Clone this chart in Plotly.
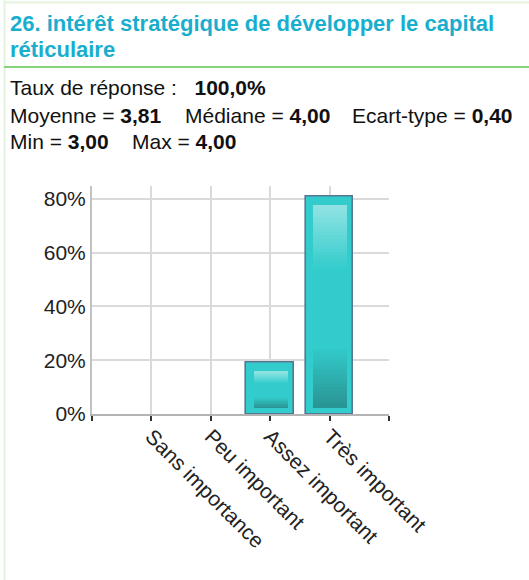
import plotly.graph_objects as go

# Survey question 26: answer distribution and summary statistics
categories = ["Sans importance", "Peu important", "Assez important", "Très important"]
percentages = [0.0, 0.0, 19.0, 81.0]
y_ticks = [0, 20, 40, 60, 80]
y_tick_labels = ["0%", "20%", "40%", "60%", "80%"]

title_lines = ["26. intérêt stratégique de développer le capital", "réticulaire"]
response_rate = "100,0%"
mean_txt, median_txt, std_txt = "3,81", "4,00", "0,40"
min_txt, max_txt = "3,00", "4,00"

W, H = 529, 580
FONT = "Liberation Sans, Arial, sans-serif"
BAR_FILL = "#33CCCC"
BAR_EDGE = "#587592"


def px_x(px):
    return px / W


def px_y(py):
    return 1 - py / H


def hex_to_rgb(h):
    h = h.lstrip("#")
    return tuple(int(h[i:i + 2], 16) for i in (0, 2, 4))


def lerp_color(c1, c2, t):
    a, b = hex_to_rgb(c1), hex_to_rgb(c2)
    return "rgb(%d,%d,%d)" % tuple(round(a[i] + (b[i] - a[i]) * t) for i in range(3))


def inner_shade(t):
    # t: 0 at bottom of inner panel, 1 at top
    if t < 0.3:
        return lerp_color("#2A9393", BAR_FILL, t / 0.3)
    if t < 0.68:
        return lerp_color(BAR_FILL, BAR_FILL, 0)
    return lerp_color(BAR_FILL, "#92E3E3", (t - 0.68) / 0.32)


x_pos = [i + 1 for i in range(len(categories))]

fig = go.Figure()

# outer bars
fig.add_trace(go.Bar(
    x=x_pos, y=percentages, width=0.8,
    marker=dict(color=BAR_FILL,
                line=dict(color=BAR_EDGE, width=[1.6 if v > 0 else 0 for v in percentages])),
    hoverinfo="skip", showlegend=False,
))

# inner shaded panel of each bar, built from thin slices
N = 60
gx, gbase, gh, gcol = [], [], [], []
for xp, v in zip(x_pos, percentages):
    if v <= 0:
        continue
    lo, hi = 2.6, v - 3.0
    step = (hi - lo) / N
    for k in range(N):
        gx.append(xp + 0.01)
        gbase.append(lo + k * step)
        gh.append(step * 1.05 if k < N - 1 else step)
        gcol.append(inner_shade((k + 0.5) / N))
fig.add_trace(go.Bar(
    x=gx, y=gh, base=gbase, width=0.57,
    marker=dict(color=gcol, line=dict(width=0)),
    hoverinfo="skip", showlegend=False,
))

y_top = 85
fig.update_layout(
    width=W, height=H,
    margin=dict(l=0, r=0, t=0, b=0, autoexpand=False),
    paper_bgcolor="white", plot_bgcolor="white",
    barmode="overlay", bargap=0,
    font=dict(family=FONT, color="#222222"),
    xaxis=dict(
        domain=[px_x(92), px_x(389)],
        range=[0, 5],
        automargin=False,
        tickmode="array",
        tickvals=[0, 1, 2, 3, 4, 5],
        ticktext=[""] + categories + [""],
        tickangle=45,
        tickfont=dict(size=21, color="#222222"),
        ticks="outside", ticklen=5, tickwidth=1.5, tickcolor="#333333",
        ticklabelstandoff=-5,
        showgrid=True, gridcolor="#DADADA", gridwidth=1.6,
        showline=True, linecolor="#B4B4B4", linewidth=2,
        zeroline=False, fixedrange=True,
    ),
    yaxis=dict(
        domain=[px_y(414), px_y(185.5)],
        range=[0, y_top],
        automargin=False,
        tickmode="array",
        tickvals=y_ticks,
        ticktext=y_tick_labels,
        tickfont=dict(size=21, color="#222222"),
        ticks="", ticklabelstandoff=0,
        showgrid=True, gridcolor="#DADADA", gridwidth=1.6,
        showline=True, linecolor="#C2C2C2", linewidth=2,
        zeroline=False, fixedrange=True,
    ),
)

# frame lines around the question block
fig.add_shape(type="line", xref="paper", yref="paper",
              x0=px_x(4.5), x1=px_x(4.5), y0=0, y1=1,
              line=dict(color="#E4F4DE", width=2))
fig.add_shape(type="line", xref="paper", yref="paper",
              x0=px_x(4), x1=1, y0=px_y(2.5), y1=px_y(2.5),
              line=dict(color="#E4F4DE", width=2))
fig.add_shape(type="line", xref="paper", yref="paper",
              x0=px_x(4), x1=1, y0=px_y(67), y1=px_y(67),
              line=dict(color="#86D27A", width=2))


def add_text(text, x, y, size, color="#111111"):
    fig.add_annotation(text=text, xref="paper", yref="paper",
                       x=px_x(x), y=px_y(y), xanchor="left", yanchor="middle",
                       showarrow=False, align="left",
                       font=dict(family=FONT, size=size, color=color))


TITLE_COLOR = "#1AAECE"
add_text("<b>%s</b>" % title_lines[0], 8, 23, 22, TITLE_COLOR)
add_text("<b>%s</b>" % title_lines[1], 8, 49.5, 22, TITLE_COLOR)

add_text("Taux de réponse :&nbsp;&nbsp; <b>%s</b>" % response_rate, 8, 87, 21)
add_text("Moyenne = <b>%s</b>" % mean_txt, 8, 115, 21)
add_text("Médiane = <b>%s</b>" % median_txt, 183, 115, 21)
add_text("Ecart-type = <b>%s</b>" % std_txt, 350, 115, 21)
add_text("Min = <b>%s</b>" % min_txt, 8, 142, 21)
add_text("Max = <b>%s</b>" % max_txt, 130, 142, 21)

fig.write_html("out.html")
